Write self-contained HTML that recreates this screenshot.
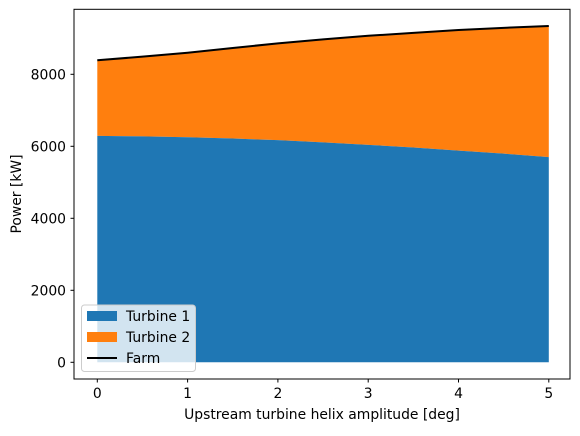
<!DOCTYPE html>
<html><head><meta charset="utf-8"><style>
body{margin:0;background:#fff;font-family:"DejaVu Sans","Liberation Sans",sans-serif}
svg text{font-family:"DejaVu Sans","Liberation Sans",sans-serif;font-size:13.9px;fill:#000}
</style></head><body>
<svg id="chart" width="580" height="432"></svg>
<script>
const xs=[0,0.5,1,1.5,2,2.5,3,3.5,4,4.5,5];
const turbine1=[6290,6275,6250,6215,6170,6110,6040,5965,5880,5795,5700];
const farm=[8390,8490,8600,8730,8860,8970,9070,9150,9230,9290,9340];
const xTicks=[0,1,2,3,4,5];
const yTicks=[0,2000,4000,6000,8000];
const X=v=>97.3+v*90.3, Y=v=>362.3-v*0.036;
const svg=document.getElementById('chart');const NS='http://www.w3.org/2000/svg';
function mk(t,a,p){const e=document.createElementNS(NS,t);for(const k in a)e.setAttribute(k,a[k]);(p||svg).appendChild(e);return e;}
let d1='M'+X(xs[0])+','+Y(0);xs.forEach((x,i)=>d1+=' L'+X(x)+','+Y(turbine1[i]));d1+=' L'+X(xs[xs.length-1])+','+Y(0)+'Z';
let d2='M'+X(xs[0])+','+Y(turbine1[0]);xs.forEach((x,i)=>d2+=' L'+X(x)+','+Y(farm[i]));for(let i=xs.length-1;i>=0;i--)d2+=' L'+X(xs[i])+','+Y(turbine1[i]);d2+='Z';
const a2=mk('path',{d:d2,fill:'#ff7f0e'});


const a1=mk('path',{d:d1,fill:'#1f77b4'});


const fl=mk('polyline',{points:xs.map((x,i)=>X(x)+','+Y(farm[i])).join(' '),fill:'none',stroke:'#000','stroke-width':2});


const fr=mk('rect',{x:74,y:9.3,width:496,height:369.7,fill:'none',stroke:'#000','stroke-width':1});


xTicks.forEach(t=>{mk('line',{x1:X(t),x2:X(t),y1:379,y2:382.5,stroke:'#000'});const e=mk('text',{x:X(t),y:398,'text-anchor':'middle'});e.textContent=t;

});
yTicks.forEach(t=>{mk('line',{x1:70.5,x2:74,y1:Y(t),y2:Y(t),stroke:'#000'});const e=mk('text',{x:66,y:Y(t)+5,'text-anchor':'end'});e.textContent=t;

});
const xl=mk('text',{x:322,y:419,'text-anchor':'middle'});xl.textContent='Upstream turbine helix amplitude [deg]';


const yl=mk('text',{x:21,y:194,'text-anchor':'middle',transform:'rotate(-90 21 194)'});yl.textContent='Power [kW]';


const lg=mk('g',{});


mk('rect',{x:81.5,y:305,width:114,height:66.5,rx:3,fill:'rgba(255,255,255,0.8)',stroke:'#ccc'},lg);
mk('rect',{x:87,y:311,width:30,height:10,fill:'#1f77b4'},lg);
mk('rect',{x:87,y:332,width:30,height:10,fill:'#ff7f0e'},lg);
mk('line',{x1:87,x2:117,y1:358,y2:358,stroke:'#000','stroke-width':2},lg);
[['Turbine 1',321],['Turbine 2',342],['Farm',363]].forEach(([s,y])=>{const e=mk('text',{x:126,y:y},lg);e.textContent=s;

});
</script>
</body></html>
